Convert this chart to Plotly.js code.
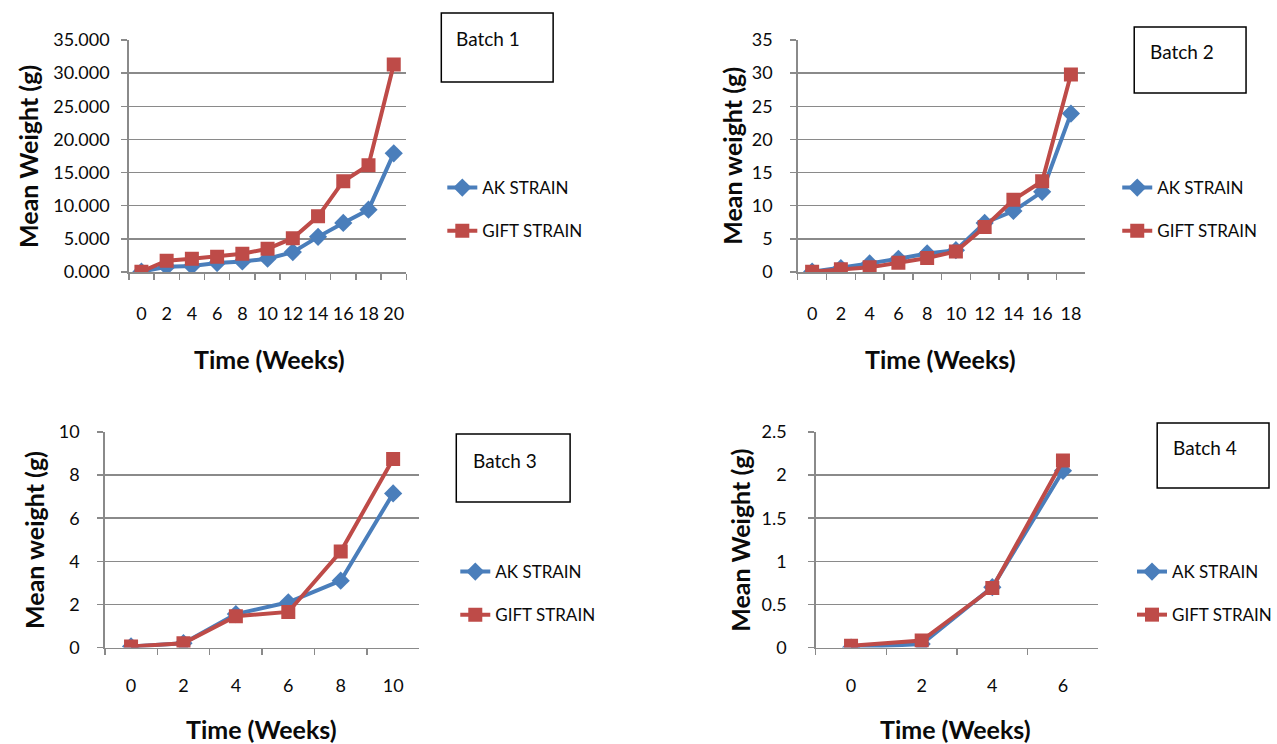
<!DOCTYPE html>
<html>
<head>
<meta charset="utf-8">
<script src="https://cdn.plot.ly/plotly-3.0.1.min.js"></script>
<style>
  html, body { margin: 0; padding: 0; background: #ffffff; }
  #chart { width: 1277px; height: 744px; }
</style>
</head>
<body>
<div id="chart"></div>
<script>
// Mean weight (g) of AK and GIFT strains by week, four batches
const weeks1 = ['0', '2', '4', '6', '8', '10', '12', '14', '16', '18', '20'];
const akBatch1 = [0.05, 0.8, 0.9, 1.35, 1.6, 2.0, 3.0, 5.3, 7.4, 9.4, 17.9];
const giftBatch1 = [0.05, 1.7, 2.0, 2.3, 2.75, 3.5, 5.1, 8.4, 13.7, 16.1, 31.3];

const weeks2 = ['0', '2', '4', '6', '8', '10', '12', '14', '16', '18'];
const akBatch2 = [0.05, 0.6, 1.3, 2.0, 2.8, 3.3, 7.4, 9.2, 12.1, 23.9];
const giftBatch2 = [0.05, 0.4, 0.7, 1.4, 2.1, 3.1, 6.8, 10.9, 13.7, 29.8];

const weeks3 = ['0', '2', '4', '6', '8', '10'];
const akBatch3 = [0.05, 0.2, 1.55, 2.1, 3.1, 7.15];
const giftBatch3 = [0.05, 0.2, 1.45, 1.65, 4.45, 8.75];

const weeks4 = ['0', '2', '4', '6'];
const akBatch4 = [0.0, 0.04, 0.7, 2.05];
const giftBatch4 = [0.02, 0.08, 0.69, 2.17];

const seriesNames = ['AK STRAIN', 'GIFT STRAIN'];
const batchLabels = ['Batch 1', 'Batch 2', 'Batch 3', 'Batch 4'];
const yTitles = ['Mean Weight (g)', 'Mean weight (g)', 'Mean weight (g)', 'Mean Weight (g)'];
const xTitle = 'Time (Weeks)';

// ---- styling / geometry (pixels on a 1277 x 744 page) ----
const W = 1277, H = 744;
const FONT = 'Lato, "Open Sans", sans-serif';
const BLUE = '#4a7ebb', RED = '#be4b48', GRID = '#8a8a8a', INK = '#0a0a0a';
const TICK_SIZE = 18, TITLE_SIZE = 25;
const px = v => v / W;
const py = v => 1 - v / H;

const panels = [
  {weeks: weeks1, ak: akBatch1, gift: giftBatch1, left: 129, right: 407, top: 40, bottom: 272,
   yMax: 35, dtick: 5, fmt: '.3f', yStand: 8, xStand: 25,
   legend: {x: 443, y: 170}, box: [442, 13, 554, 82], boxText: {x: 455, y: 39},
   yTitle: {x: 28, y: 156}, xTitle: {x: 270, y: 359}},
  {weeks: weeks2, ak: akBatch2, gift: giftBatch2, left: 799, right: 1087, top: 40, bottom: 272,
   yMax: 35, dtick: 5, fmt: '', yStand: 14, xStand: 25,
   legend: {x: 1119, y: 170}, box: [1136, 27, 1248, 93], boxText: {x: 1150, y: 51},
   yTitle: {x: 733, y: 156}, xTitle: {x: 942, y: 359}},
  {weeks: weeks3, ak: akBatch3, gift: giftBatch3, left: 105, right: 420, top: 432, bottom: 647.5,
   yMax: 10, dtick: 2, fmt: '', yStand: 14, xStand: 21,
   legend: {x: 456, y: 554}, box: [457, 434, 571, 502], boxText: {x: 472, y: 460},
   yTitle: {x: 34, y: 540}, xTitle: {x: 262, y: 729}},
  {weeks: weeks4, ak: akBatch4, gift: giftBatch4, left: 817, right: 1100, top: 432, bottom: 647.5,
   yMax: 2.5, dtick: 0.5, fmt: '', yStand: 18, xStand: 21,
   legend: {x: 1134, y: 554}, box: [1159, 423, 1271, 488], boxText: {x: 1173, y: 447},
   yTitle: {x: 741, y: 540}, xTitle: {x: 957, y: 729}}
];

const data = [];
const layout = {
  width: W, height: H,
  margin: {l: 0, r: 0, t: 0, b: 0},
  paper_bgcolor: '#ffffff', plot_bgcolor: '#ffffff',
  font: {family: FONT, size: 17, color: INK},
  shapes: [], annotations: []
};

panels.forEach((p, i) => {
  const n = i + 1;
  const xa = n === 1 ? 'x' : 'x' + n;
  const ya = n === 1 ? 'y' : 'y' + n;
  const lg = n === 1 ? 'legend' : 'legend' + n;

  data.push({
    type: 'scatter', mode: 'lines+markers', name: seriesNames[0],
    x: p.weeks, y: p.ak, xaxis: xa, yaxis: ya, legend: lg, legendgroup: 'ak' + n,
    line: {color: BLUE, width: 4},
    marker: {symbol: 'diamond', size: 14, color: BLUE}
  });
  data.push({
    type: 'scatter', mode: 'lines+markers', name: seriesNames[1],
    x: p.weeks, y: p.gift, xaxis: xa, yaxis: ya, legend: lg, legendgroup: 'gift' + n,
    line: {color: RED, width: 4},
    marker: {symbol: 'square', size: 14, color: RED}
  });

  layout['xaxis' + (n === 1 ? '' : n)] = {
    domain: [px(p.left), px(p.right)],
    anchor: ya, type: 'category',
    range: [-0.5, p.weeks.length - 0.5],
    showgrid: false, zeroline: false,
    showline: true, linecolor: GRID, linewidth: 1.5,
    ticks: 'outside', tickson: 'boundaries', ticklen: 6, tickcolor: GRID, tickwidth: 1.5,
    tickangle: 0,
    ticklabelstandoff: p.xStand,
    tickfont: {family: FONT, size: TICK_SIZE, color: INK},
    fixedrange: true
  };
  layout['yaxis' + (n === 1 ? '' : n)] = {
    domain: [py(p.bottom), py(p.top)],
    anchor: xa,
    range: [0, p.yMax], dtick: p.dtick, tick0: 0,
    tickformat: p.fmt,
    showgrid: true, gridcolor: GRID, gridwidth: 1.5,
    zeroline: false,
    showline: true, linecolor: GRID, linewidth: 1.5,
    ticks: 'outside', ticklen: 6, tickcolor: GRID, tickwidth: 1.5,
    ticklabelstandoff: p.yStand,
    tickfont: {family: FONT, size: TICK_SIZE, color: INK},
    fixedrange: true
  };

  layout[lg] = {
    x: px(p.legend.x), y: py(p.legend.y), xanchor: 'left', yanchor: 'top',
    xref: 'paper', yref: 'paper',
    bgcolor: 'rgba(0,0,0,0)', borderwidth: 0,
    traceorder: 'grouped', tracegroupgap: 18,
    font: {family: FONT, size: 17, color: INK}
  };

  // text box with the batch label
  layout.shapes.push({
    type: 'rect', xref: 'paper', yref: 'paper',
    x0: px(p.box[0]), x1: px(p.box[2]), y0: py(p.box[3]), y1: py(p.box[1]),
    line: {color: '#000000', width: 1.5}, fillcolor: '#ffffff'
  });
  layout.annotations.push({
    xref: 'paper', yref: 'paper', x: px(p.boxText.x), y: py(p.boxText.y),
    xanchor: 'left', yanchor: 'middle', showarrow: false,
    text: batchLabels[i], font: {family: FONT, size: 19, color: INK}
  });

  // axis titles
  layout.annotations.push({
    xref: 'paper', yref: 'paper', x: px(p.yTitle.x), y: py(p.yTitle.y),
    xanchor: 'center', yanchor: 'middle', showarrow: false, textangle: -90,
    text: '<b>' + yTitles[i] + '</b>', font: {family: FONT, size: TITLE_SIZE, color: INK}
  });
  layout.annotations.push({
    xref: 'paper', yref: 'paper', x: px(p.xTitle.x), y: py(p.xTitle.y),
    xanchor: 'center', yanchor: 'middle', showarrow: false,
    text: '<b>' + xTitle + '</b>', font: {family: FONT, size: TITLE_SIZE, color: INK}
  });
});

Plotly.newPlot('chart', data, layout, {displayModeBar: false, staticPlot: true});
</script>
</body>
</html>
